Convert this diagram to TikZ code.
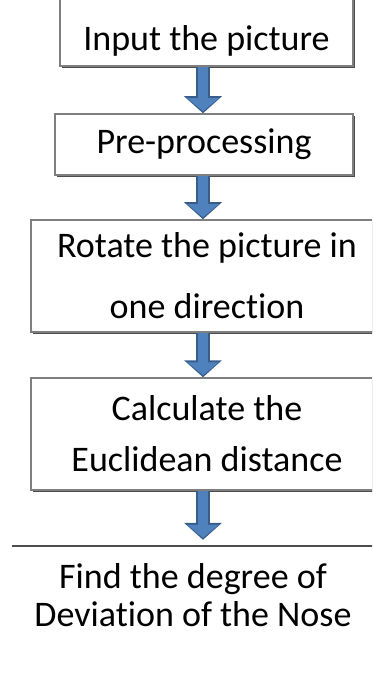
\documentclass[tikz,border=0pt]{standalone}
\usepackage{fontspec}
\setmainfont[Ligatures=NoCommon]{Carlito}
\usetikzlibrary{arrows.meta,shadows}
\definecolor{boxgray}{HTML}{7F7F7F}
\definecolor{shadegray}{HTML}{4D4D4D}
\definecolor{arrowblue}{HTML}{4F81BD}
\definecolor{arrowedge}{HTML}{385D8A}
\tikzset{
  flowbox/.style={draw=boxgray, line width=1.5pt, fill=white, inner sep=0pt, align=center,
    font=\fontsize{36}{38}\selectfont,
    drop shadow={shadow xshift=2pt, shadow yshift=-2pt, fill=shadegray, opacity=1}},
  flowarrow/.style={draw=arrowblue, line width=10.5pt, -{Triangle[width=31pt,length=13pt]}, shorten >=2pt,
    preaction={draw=arrowedge, line width=13.5pt, shorten >=0pt, -{Triangle[width=37pt,length=17pt]}}}
}
\begin{document}
\begin{tikzpicture}[x=1pt,y=-1pt]
                \clip (0,0) rectangle (372,684);
                \node[flowbox, minimum width=293pt, text height=54pt, text depth=15pt] (input) at (206.5,31.5) {Input the picture};
                \node[flowbox, minimum width=298pt, minimum height=61pt] (prep) at (204,144.5) {Pre-processing};
                \node[flowbox, minimum width=352pt, minimum height=112pt] (rotate) at (207,276) {Rotate the picture in\\[23pt]one direction};
                \node[flowbox, minimum width=352pt, minimum height=112pt] (euclid) at (207,434) {Calculate the\\[13pt]Euclidean distance};
                \node[inner sep=0pt, align=center, font=\fontsize{36}{38}\selectfont, minimum width=362pt, minimum height=98pt] (nose) at (193,595) {Find the degree of\\Deviation of the Nose};
                \draw[shadegray, line width=2pt] (nose.north west) -- (nose.north east);
                \coordinate (axis) at (203,0);
                \draw[flowarrow] (input.south -| axis) -- (prep.north -| axis);
                \draw[flowarrow] (prep.south -| axis) -- (rotate.north -| axis);
                \draw[flowarrow] (rotate.south -| axis) -- (euclid.north -| axis);
                \draw[flowarrow] (euclid.south -| axis) -- ([yshift=6pt]nose.north -| axis);
            \end{tikzpicture}
\end{document}
